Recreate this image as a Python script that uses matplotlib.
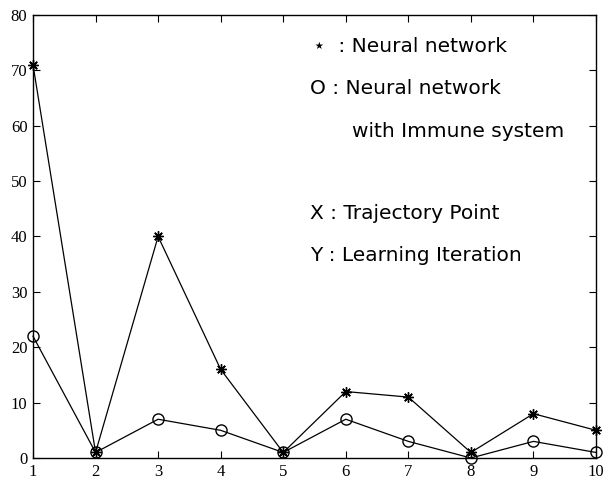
import matplotlib
matplotlib.use('Agg')
import matplotlib.pyplot as plt

# data
points = [1, 2, 3, 4, 5, 6, 7, 8, 9, 10]
neural = [71, 1, 40, 16, 1, 12, 11, 1, 8, 5]
immune = [22, 1, 7, 5, 1, 7, 3, 0, 3, 1]

fig = plt.figure(figsize=(6.04, 4.84), dpi=100)
ax = fig.add_axes([33 / 604, 26 / 484, 563 / 604, 443 / 484])

# asterisk marker like the matlab '*'
ax.plot(points, neural, color='black', lw=0.9, marker=(8, 2, 0), ms=7.5,
        mew=1.0, mec='black', clip_on=False)
ax.plot(points, immune, color='black', lw=0.9, marker='o', ms=8,
        mfc='none', mec='black', clip_on=False)

ax.set_xlim(1, 10)
ax.set_ylim(0, 80)
ax.set_xticks(points)
ax.set_yticks(range(0, 81, 10))
ax.tick_params(direction='in', top=True, right=True, length=5, width=0.8,
               labelsize=12, pad=4)
for lab in ax.get_xticklabels() + ax.get_yticklabels():
    lab.set_family('Liberation Serif')
for s in ax.spines.values():
    s.set_linewidth(1.0)

txt = dict(fontsize=14.5, family='DejaVu Sans', ha='left', va='center')
ax.text(5.47, 74.4, '\u22c6  : Neural network', **txt)
ax.text(5.43, 66.8, 'O : Neural network', **txt)
ax.text(6.1, 59.0, 'with Immune system', **txt)
ax.text(5.43, 44.2, 'X : Trajectory Point', **txt)
ax.text(5.43, 36.6, 'Y : Learning Iteration', **txt)

fig.savefig('out.png', dpi=100)
